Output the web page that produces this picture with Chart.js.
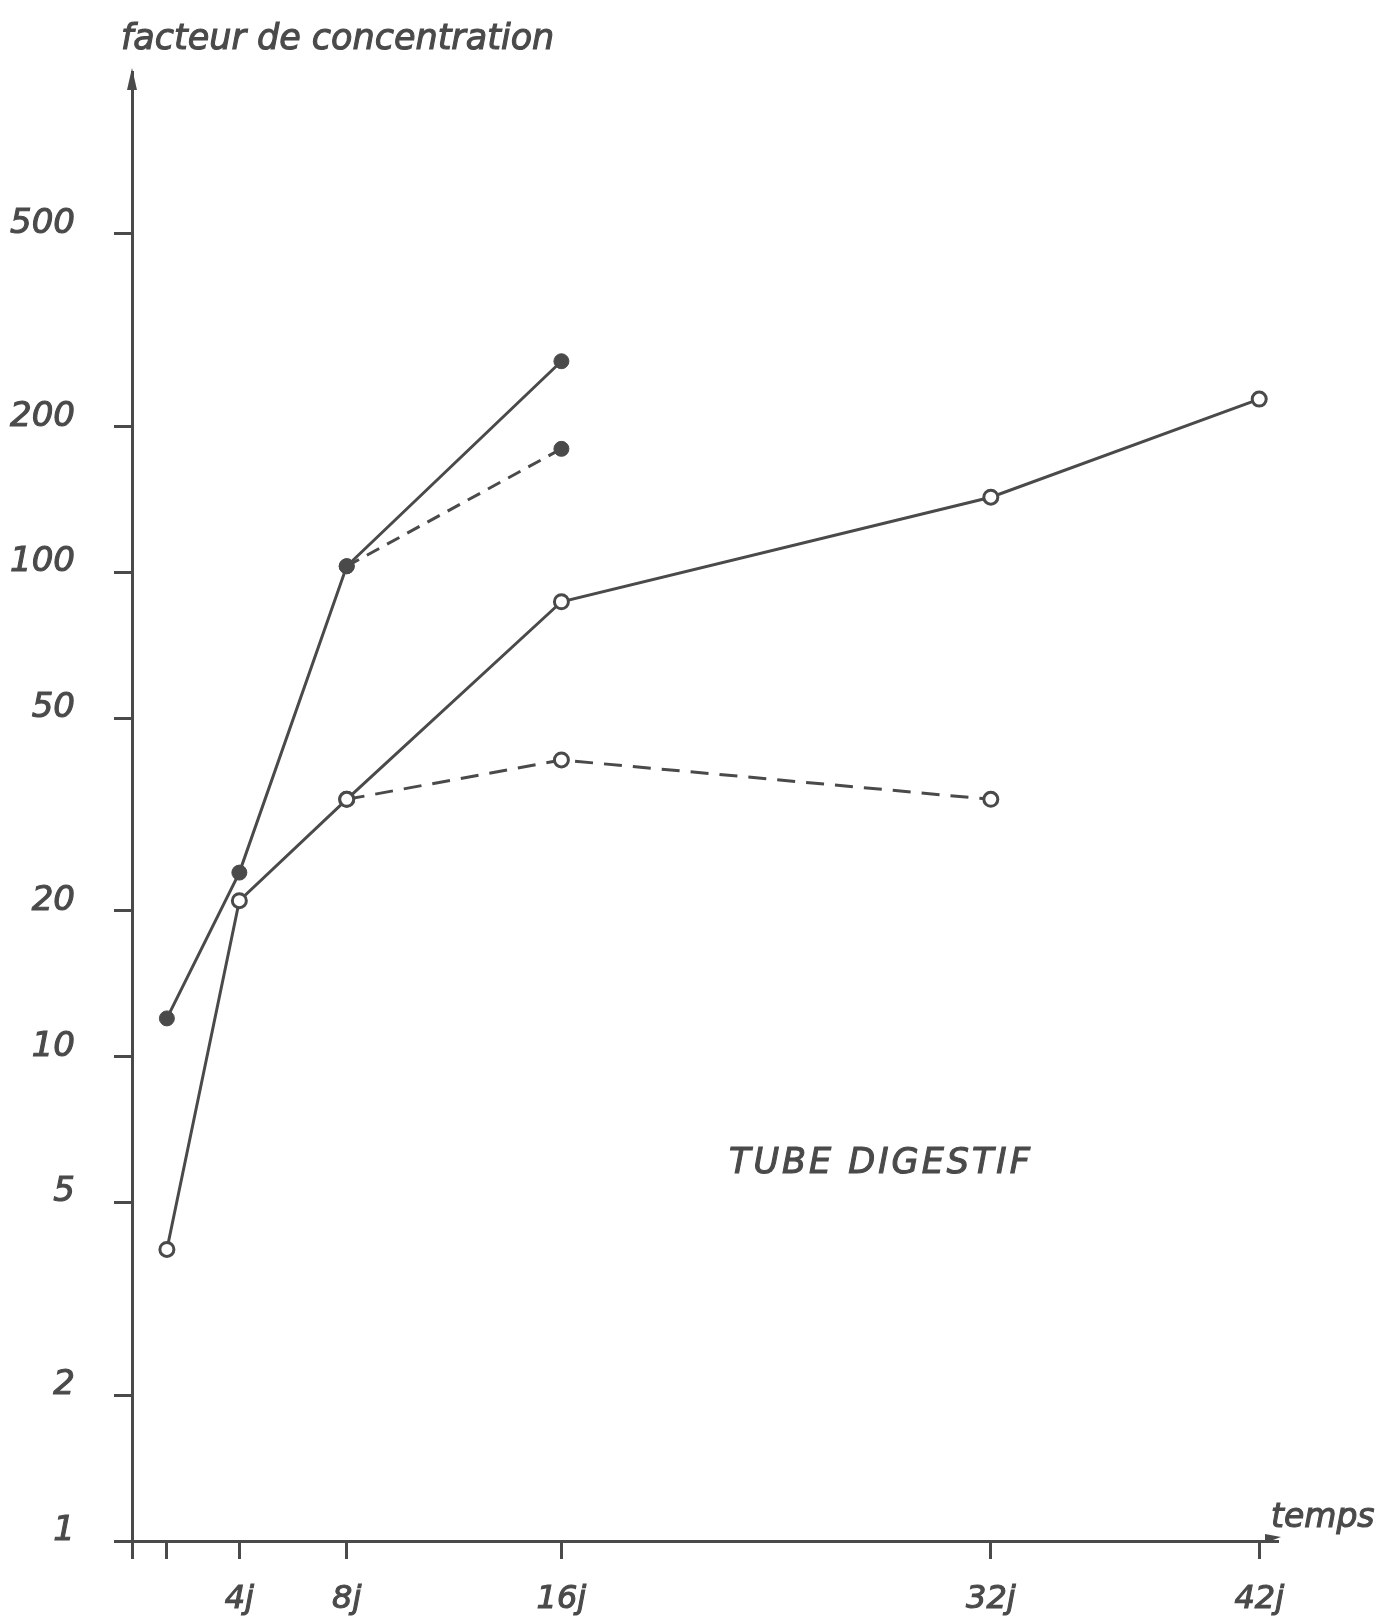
<!DOCTYPE html>
<html>
<head>
<meta charset="utf-8">
<title>Tube digestif</title>
<script src="https://cdn.jsdelivr.net/npm/chart.js@4.4.0/dist/chart.umd.min.js"></script>
<style>
  html, body { margin: 0; padding: 0; background: #fff; }
</style>
</head>
<body>
<canvas id="myChart" width="1380" height="1619"></canvas>
<script>
// x axis: time in days, y axis: facteur de concentration (log)
var dayTicks = [0, 1.3, 4, 8, 16, 32, 42];
var dayLabels = ['', '', '4j', '8j', '16j', '32j', '42j'];
var yTicks = [1, 2, 5, 10, 20, 50, 100, 200, 500];

// filled circles
var daysFilled = [1.3, 4, 8, 16];
var filledSolid = [12, 24, 103, 273];
var daysFilledDash = [8, 16];
var filledDash = [103, 180];

// open circles
var daysOpen = [1.3, 4, 8, 16, 32, 42];
var openSolid = [4, 21, 34, 87, 143, 228];
var daysOpenDash = [8, 16, 32];
var openDash = [34, 41, 34];

var ink = '#4a4a4a';
var font = 'DejaVu Sans';

function pts(xs, ys) {
	return xs.map(function(x, i) { return { x: x, y: ys[i] }; });
}

function label(c, txt, x, y) {
	c.fillText(txt, x, y);
	c.strokeText(txt, x, y);
}

// titles, annotation and axis arrows
var extras = {
	id: 'extras',
	afterDraw: function(chart) {
		var c = chart.ctx;
		var a = chart.chartArea;
		c.save();
		c.fillStyle = ink;
		c.strokeStyle = ink;
		c.lineWidth = 1.1;
		c.textAlign = 'left';
		c.textBaseline = 'alphabetic';
		c.font = 'italic 35px "' + font + '"';
		label(c, 'facteur de concentration', 121, 49);
		c.font = 'italic 33px "' + font + '"';
		label(c, 'temps', 1271, 1527);
		c.font = 'italic 35px "' + font + '"';
		c.letterSpacing = '3px';
		label(c, 'TUBE DIGESTIF', 729, 1173);
		c.letterSpacing = '0px';

		// arrow up
		c.beginPath();
		c.moveTo(a.left, a.top - 4);
		c.lineTo(a.left - 5, a.top + 18);
		c.lineTo(a.left + 5, a.top + 18);
		c.closePath();
		c.fill();
		// arrow right
		c.beginPath();
		c.moveTo(a.right + 3, a.bottom - 4);
		c.lineTo(a.right - 13, a.bottom - 7);
		c.lineTo(a.right - 13, a.bottom + 2);
		c.closePath();
		c.fill();
		c.restore();
	}
};

const ctx = document.getElementById('myChart').getContext('2d');
const myChart = new Chart(ctx, {
	type: 'line',
	data: {
		datasets: [{
			data: pts(daysFilled, filledSolid),
			borderColor: ink,
			borderWidth: 3,
			pointRadius: 7.5,
			pointBackgroundColor: ink,
			pointBorderColor: ink,
			pointBorderWidth: 1,
			order: 1
		}, {
			data: pts(daysFilledDash, filledDash),
			borderColor: ink,
			borderWidth: 3,
			borderDash: [14, 9],
			pointRadius: 7.5,
			pointBackgroundColor: ink,
			pointBorderColor: ink,
			pointBorderWidth: 1,
			order: 2
		}, {
			data: pts(daysOpen, openSolid),
			borderColor: ink,
			borderWidth: 3,
			pointRadius: 7,
			pointBackgroundColor: '#fff',
			pointBorderColor: ink,
			pointBorderWidth: 3,
			order: 3
		}, {
			data: pts(daysOpenDash, openDash),
			borderColor: ink,
			borderWidth: 3,
			borderDash: [18, 11],
			pointRadius: 7,
			pointBackgroundColor: '#fff',
			pointBorderColor: ink,
			pointBorderWidth: 3,
			order: 4
		}]
	},
	options: {
		responsive: false,
		animation: false,
		layout: { padding: { left: 0, right: 102, top: 72, bottom: 0 } },
		plugins: {
			legend: { display: false },
			tooltip: { enabled: false }
		},
		scales: {
			x: {
				type: 'linear',
				min: 0,
				max: 42.7,
				afterFit: function(s) { s.height = 78; },
				afterBuildTicks: function(s) {
					s.ticks = dayTicks.map(function(v) { return { value: v }; });
				},
				grid: { drawOnChartArea: false, drawTicks: true, tickLength: 18, tickColor: ink, tickWidth: 3 },
				border: { display: true, color: ink, width: 3 },
				ticks: {
					autoSkip: false,
					maxRotation: 0,
					padding: 21,
					color: ink,
					textStrokeColor: ink,
					textStrokeWidth: 1.1,
					font: { family: font, size: 32, style: 'italic' },
					callback: function(v) { return dayLabels[dayTicks.indexOf(v)]; }
				}
			},
			y: {
				type: 'logarithmic',
				min: 1,
				max: 1080,
				afterFit: function(s) { s.width = 132; },
				afterBuildTicks: function(s) {
					s.ticks = yTicks.map(function(v) { return { value: v }; });
				},
				grid: { drawOnChartArea: false, drawTicks: true, tickLength: 18, tickColor: ink, tickWidth: 3 },
				border: { display: true, color: ink, width: 3 },
				ticks: {
					autoSkip: false,
					padding: 39,
					labelOffset: -10,
					color: ink,
					textStrokeColor: ink,
					textStrokeWidth: 1.1,
					font: { family: font, size: 34, style: 'italic' },
					callback: function(v) { return String(v); }
				}
			}
		}
	},
	plugins: [extras]
});
</script>
</body>
</html>
